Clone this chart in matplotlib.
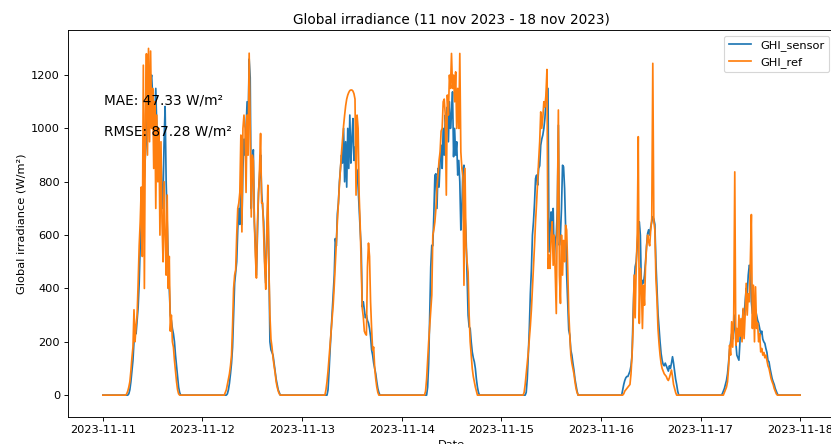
import numpy as np
import pandas as pd
import matplotlib
matplotlib.use('Agg')
import matplotlib.pyplot as plt
import matplotlib.dates as mdates

# 15-min GHI samples (W/m2), daylight window only, night is zero
step_h = 0.25
day_start_hours = [5.5, 5.25, 5.5, 5.5, 5.25, 5.0, 5.0]

sensor_d1 = [0, 0, 0, 5, 20, 50, 90, 130, 200, 260, 230, 280, 330, 420, 560, 640, 700, 760,
             820, 900, 960, 1100, 1150, 1050, 1180, 1200, 1120, 1000, 1050, 1150, 1000, 900,
             850, 800, 900, 700, 750, 950, 1082, 800, 650, 500, 400, 300, 280, 250, 230, 200,
             150, 110, 70, 30, 10, 0]
ref_d1 = [0, 5, 15, 30, 50, 90, 140, 180, 320, 200, 260, 300, 420, 560, 650, 780, 520, 1237,
          400, 1050, 1280, 900, 1300, 950, 1290, 1000, 1150, 850, 1100, 700, 1050, 800, 1000,
          600, 950, 650, 500, 800, 600, 450, 750, 400, 520, 240, 300, 200, 180, 130, 90, 50,
          20, 5, 0, 0]

sensor_d2 = [0, 0, 0, 5, 20, 45, 80, 120, 180, 300, 420, 460, 500, 620, 700, 640, 780, 640,
             850, 960, 900, 1000, 1100, 1020, 1260, 1190, 700, 850, 920, 650, 560, 450, 600,
             760, 820, 900, 760, 700, 650, 500, 420, 600, 720, 500, 200, 170, 160, 150, 120,
             90, 60, 40, 20, 10, 0]
ref_d2 = [0, 10, 20, 40, 60, 80, 110, 150, 260, 400, 450, 470, 600, 700, 720, 760, 975, 612,
          1000, 1050, 1000, 760, 1050, 900, 1282, 1000, 668, 900, 880, 650, 520, 439, 650, 750,
          850, 981, 720, 720, 600, 480, 397, 620, 787, 480, 300, 210, 180, 140, 110, 84, 50,
          30, 15, 5, 0]

sensor_d3 = [0, 0, 0, 20, 90, 170, 240, 310, 380, 450, 587, 560, 680, 720, 800, 850, 900, 870,
             1000, 800, 950, 780, 1000, 850, 1050, 870, 960, 1037, 880, 930, 850, 844, 780, 700,
             619, 550, 331, 350, 320, 290, 300, 280, 270, 250, 220, 170, 150, 120, 100, 80, 50,
             25, 10, 0]
ref_d3 = [0, 20, 50, 90, 140, 190, 240, 290, 340, 410, 490, 570, 650, 720, 790, 850, 910, 960,
          1010, 1050, 1085, 1110, 1125, 1135, 1142, 1144, 1144, 1140, 1130, 1110, 750, 1050,
          1000, 750, 637, 487, 325, 293, 240, 230, 225, 480, 570, 520, 350, 250, 169, 180, 100,
          60, 30, 10, 0, 0]

sensor_d4 = [0, 0, 0, 30, 120, 300, 480, 562, 560, 680, 825, 830, 700, 850, 780, 875, 937, 850,
             1000, 900, 1050, 1000, 1080, 950, 1100, 1000, 1050, 1137, 894, 1000, 900, 950, 825,
             880, 800, 619, 700, 850, 862, 675, 600, 450, 300, 256, 250, 200, 162, 140, 125, 100,
             60, 30, 10, 0]
ref_d4 = [0, 15, 60, 130, 200, 260, 320, 375, 600, 620, 650, 700, 780, 825, 880, 912, 990, 1000,
          1100, 1110, 1050, 750, 1125, 1050, 1200, 1150, 1281, 1150, 1200, 1100, 1212, 1000, 1150,
          1000, 1281, 912, 850, 820, 412, 850, 562, 500, 462, 300, 200, 150, 100, 70, 50, 30, 15,
          0, 0, 0]

sensor_d5 = [0, 0, 0, 10, 60, 150, 250, 380, 470, 600, 650, 720, 812, 825, 787, 850, 860, 937,
             960, 975, 1000, 1037, 1100, 1150, 1150, 537, 612, 687, 650, 700, 500, 580, 600, 700,
             1012, 562, 600, 700, 862, 856, 775, 625, 450, 350, 244, 225, 169, 150, 120, 94, 60,
             37, 15, 0]
ref_d5 = [0, 10, 40, 80, 120, 160, 210, 260, 320, 400, 480, 560, 650, 720, 800, 880, 950, 1062,
          1000, 1040, 1100, 1080, 1125, 1221, 475, 525, 475, 600, 650, 487, 600, 450, 306, 687,
          1069, 450, 344, 600, 450, 580, 500, 637, 619, 475, 312, 225, 150, 120, 100, 80, 50, 25,
          10, 0]

sensor_d6 = [0, 20, 40, 55, 65, 70, 70, 80, 90, 110, 150, 300, 420, 481, 500, 560, 637, 650, 600,
             406, 430, 420, 450, 500, 560, 606, 620, 600, 630, 650, 669, 660, 640, 500, 400, 306,
             250, 200, 156, 130, 115, 110, 120, 110, 100, 90, 110, 100, 120, 144, 120, 90, 60, 40,
             15, 0]
ref_d6 = [0, 0, 5, 15, 20, 25, 30, 35, 40, 80, 150, 250, 450, 290, 475, 600, 969, 269, 475, 412,
          250, 412, 337, 487, 556, 600, 575, 560, 620, 662, 1244, 650, 619, 437, 362, 250, 194,
          150, 119, 100, 90, 80, 75, 70, 60, 55, 65, 80, 94, 70, 40, 25, 10, 0, 0, 0]

sensor_d7 = [0, 5, 15, 25, 40, 55, 80, 120, 170, 200, 230, 210, 250, 300, 200, 150, 140, 131,
             200, 280, 250, 320, 300, 350, 400, 380, 450, 487, 481, 350, 306, 350, 280, 320, 300,
             281, 270, 250, 230, 240, 210, 200, 194, 175, 160, 130, 125, 100, 80, 62, 50, 40, 25,
             15, 5, 0]
ref_d7 = [0, 0, 0, 10, 20, 30, 50, 100, 187, 150, 275, 180, 300, 837, 187, 250, 200, 300, 220,
          287, 200, 325, 212, 300, 419, 300, 380, 350, 500, 677, 250, 412, 200, 406, 250, 270,
          200, 230, 162, 175, 150, 160, 140, 150, 130, 110, 100, 80, 62, 50, 40, 25, 15, 5, 0, 0]

sensor_days = [sensor_d1, sensor_d2, sensor_d3, sensor_d4, sensor_d5, sensor_d6, sensor_d7]
ref_days = [ref_d1, ref_d2, ref_d3, ref_d4, ref_d5, ref_d6, ref_d7]

mae = 47.33
rmse = 87.28

# build full series

times = pd.date_range('2023-11-11 00:00', '2023-11-18 00:00', freq='15min')
ghi_sensor = np.zeros(len(times))
ghi_ref = np.zeros(len(times))
per_day = int(24 / step_h)
for d, (h0, s, r) in enumerate(zip(day_start_hours, sensor_days, ref_days)):
    i0 = d * per_day + int(round(h0 / step_h))
    ghi_sensor[i0:i0 + len(s)] = s
    ghi_ref[i0:i0 + len(r)] = r

# setup figure

dpi = 82
fig = plt.figure(figsize=(831 / dpi, 444 / dpi), dpi=dpi)
ax = fig.add_axes([68 / 831, 27 / 444, 767 / 831, 387 / 444])

ax.plot(times, ghi_sensor, label='GHI_sensor')
ax.plot(times, ghi_ref, label='GHI_ref')

ax.text(0.047, 0.808, f'MAE: {mae:.2f} W/m²', transform=ax.transAxes, fontsize=12)
ax.text(0.047, 0.728, f'RMSE: {rmse:.2f} W/m²', transform=ax.transAxes, fontsize=12)

# finalize plot

ax.set_title('Global irradiance (11 nov 2023 - 18 nov 2023)')
ax.set_xlabel('Date')
ax.set_ylabel('Global irradiance (W/m²)')
ax.xaxis.set_major_locator(mdates.DayLocator())
ax.xaxis.set_major_formatter(mdates.DateFormatter('%Y-%m-%d'))
x0 = mdates.date2num(times[0])
x1 = mdates.date2num(times[-1])
pad = 0.05 * (x1 - x0)
ax.set_xlim(x0 - pad, x1 + pad)
ax.set_ylim(-82, 1369)
ax.legend(loc='upper right')

fig.savefig('out.png', dpi=dpi)
plt.close()
